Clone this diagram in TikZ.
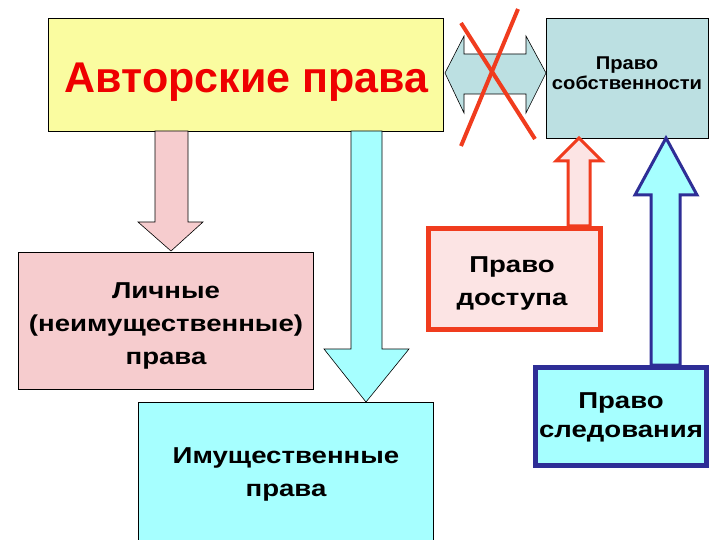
\documentclass[tikz,border=0pt]{standalone}
\usepackage{fontspec}
\setmainfont{Liberation Sans}
\newfontfamily\widesans[FakeStretch=1.2]{Liberation Sans}
\newfontfamily\midsans[FakeStretch=1.09]{Liberation Sans}
\definecolor{yel}{RGB}{250,252,160}
\definecolor{pinkf}{RGB}{246,204,206}
\definecolor{lpink}{RGB}{252,228,228}
\definecolor{cyanf}{RGB}{166,255,255}
\definecolor{grayb}{RGB}{188,224,226}
\definecolor{redl}{RGB}{240,60,30}
\definecolor{titlered}{RGB}{238,0,0}
\definecolor{navy}{RGB}{46,46,150}
\tikzset{
  box/.style={draw=black,line width=0.6pt,inner sep=0pt},
  txt/.style={inner sep=0pt,align=center,anchor=base,font=\widesans\bfseries\fontsize{23}{33}\selectfont},
  thinarrow/.style={draw=black,line width=0.6pt,line join=miter},
}
\begin{document}
\begin{tikzpicture}[x=1pt,y=-1pt]
\useasboundingbox (0,0) rectangle (720,540);
% boxes
\node[box,fill=yel,minimum width=395pt,minimum height=113pt] (avt) at (245.5,74.5) {};
\node[box,fill=grayb,minimum width=162pt,minimum height=120pt] (sob) at (627,78) {};
\node[box,fill=pinkf,minimum width=295pt,minimum height=137pt] (lich) at (165.5,321) {};
\node[box,fill=cyanf,minimum width=295pt,minimum height=150pt] (imu) at (285.5,477) {};
\node[box,draw=redl,line width=5pt,fill=lpink,minimum width=172pt,minimum height=101pt] (dost) at (514,279) {};
\node[box,draw=navy,line width=5pt,fill=cyanf,minimum width=171pt,minimum height=98pt] (sled) at (621,416) {};
% block arrows
\filldraw[thinarrow,fill=pinkf] (155,131) -- (188,131) -- (188,222) -- (203,222) -- (171,251) -- (138,222) -- (155,222) -- cycle;
\filldraw[thinarrow,fill=cyanf] (351,131) -- (382,131) -- (382,349) -- (409,349) -- (366,402) -- (324,349) -- (351,349) -- cycle;
\filldraw[thinarrow,fill=grayb] (445,73) -- (464,36) -- (464,54) -- (526,54) -- (526,36) -- (546,73) -- (526,113) -- (526,94) -- (464,94) -- (464,113) -- cycle;
\filldraw[draw=redl,line width=3pt,fill=lpink,line join=miter] (568,226) -- (568,161) -- (556,161) -- (579,138) -- (602,161) -- (590,161) -- (590,226) -- cycle;
\filldraw[draw=navy,line width=3pt,fill=cyanf,line join=miter] (651,365) -- (651,195) -- (635,195) -- (666,138) -- (697,195) -- (680,195) -- (680,365) -- cycle;
% texts (base anchor = baseline of last line)
\node[txt,font=\bfseries\fontsize{43}{50}\selectfont,text=titlered] (avtT) at (246.5,92.7) {Авторские права};
\node[txt,font=\midsans\bfseries\fontsize{18.5}{20}\selectfont] (sobT) at (627,90) {Право\\собственности};
\node[txt] (lichT) at (166,364) {Личные\\(неимущественные)\\права};
\node[txt] (imuT) at (286,496) {Имущественные\\права};
\node[txt] (dostT) at (512,305) {Право~\\доступа};
\node[txt,font=\widesans\bfseries\fontsize{23}{29}\selectfont] (sledT) at (621,437) {Право~\\следования};
% cross
\draw[redl,line width=4pt] (518,9) -- (461,146);
\draw[redl,line width=4pt] (461,23) -- (535,139);
\end{tikzpicture}
\end{document}
